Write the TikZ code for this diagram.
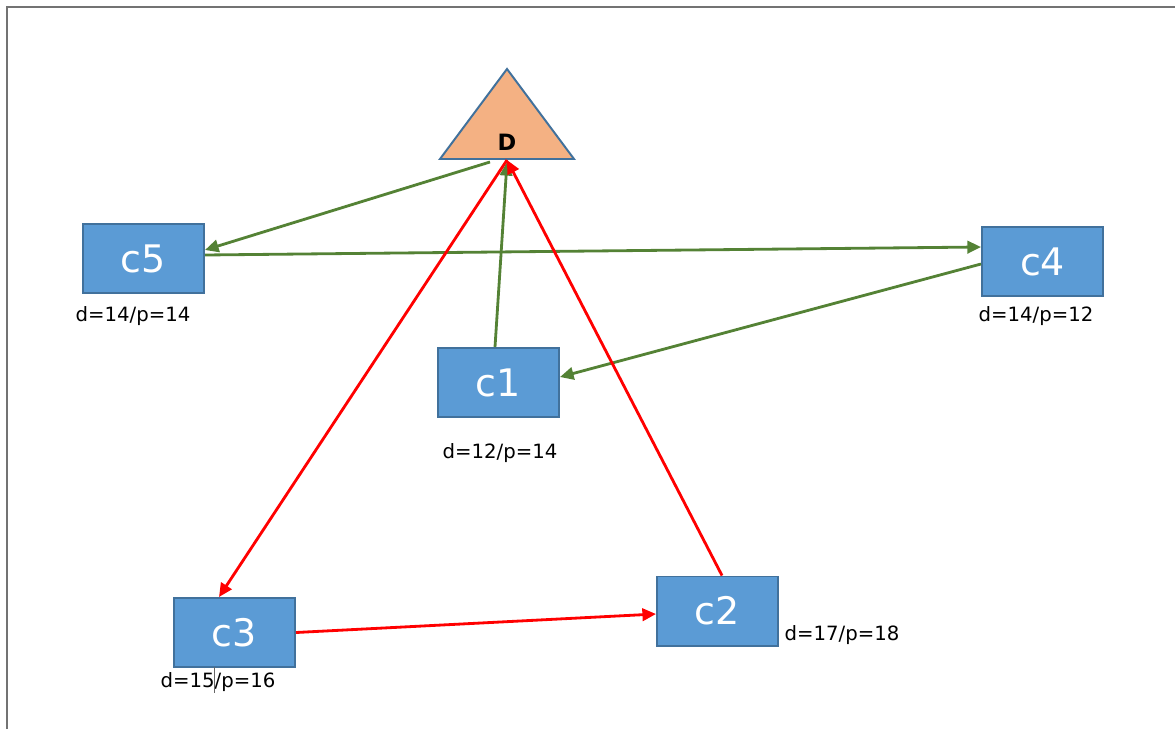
\documentclass[tikz,border=0pt]{standalone}
\usepackage{fontspec}
\setmainfont{DejaVu Sans}
\usetikzlibrary{arrows.meta,calc,positioning,shapes.geometric}
\definecolor{boxblue}{RGB}{91,155,213}
\definecolor{boxedge}{RGB}{65,113,156}
\definecolor{depotfill}{RGB}{244,177,131}
\definecolor{flowgreen}{RGB}{84,130,53}
\definecolor{flowred}{RGB}{255,0,0}
\tikzset{
  >={Triangle[length=3.4mm,width=3.1mm]},
  greenflow/.style={->, line width=2pt, draw=flowgreen, fill=flowgreen},
  redflow/.style={->, line width=2pt, draw=flowred, fill=flowred},
  cbox/.style={
    draw=boxedge,
    line width=1.4pt,
    fill=boxblue,
    text=white,
    minimum width=3.025cm,
    minimum height=1.725cm,
    inner sep=0pt,
    font=\fontsize{27}{31}\selectfont
  },
  depotshape/.style={
    isosceles triangle,
    isosceles triangle stretches,
    shape border rotate=90,
    draw=boxedge,
    line width=1.4pt,
    fill=depotfill,
    minimum width=3.35cm,
    minimum height=2.25cm,
    inner sep=0pt
  },
  dlabel/.style={font=\fontsize{16}{19}\selectfont\bfseries, inner sep=0pt},
  lbl/.style={font=\fontsize{14}{17}\selectfont, inner sep=0pt},
  frameline/.style={draw=black!55, line width=1.2pt}
}
\begin{document}
\begin{tikzpicture}[x=0.025cm, y=-0.025cm]
  \useasboundingbox (0,0) rectangle (1175,729);
  \draw[frameline] (7,729) -- (7,7) -- (1175,7);

  % depot
  \node[depotshape, anchor=south] (depot) at (507,160) {};
  \node[dlabel] (dname) at ($(depot.south)+(0,-18)$) {D};

  % clients
  \node[cbox] (c5) at (143.5,258.5) {c5};
  \node[cbox] (c4) at (1042.5,261.5) {c4};
  \node[cbox] (c1) at (498.5,382.5) {c1};
  \node[cbox] (c3) at (234.5,632.5) {c3};
  \node[cbox] (c2) at (717.5,611) {c2};

  \node[lbl] (l5) at (133,316) {d=14/p=14};
  \node[lbl] (l4) at (1036,316) {d=14/p=12};
  \node[lbl] (l1) at (500,453) {d=12/p=14};
  \node[lbl] (l3) at (218,682) {d=15/p=16};
  \node[lbl] (l2) at (842,635) {d=17/p=18};
  \draw[black!60, line width=0.6pt] (214,667) -- (214,693);

  % green tour
  \draw[greenflow] ($(depot.south)+(-17,2)$) -- ($(c5.east)+(0,-8.5)$);
  \draw[greenflow] ($(c5.east)+(0,-3.5)$) -- ($(c4.west)+(0,-14.5)$);
  \draw[greenflow] ($(c4.west)+(0,2.5)$) -- ($(c1.east)+(0,-5.5)$);
  \draw[greenflow] ($(c1.north)+(-3.5,0)$) -- ($(depot.south)+(0,2)$);

  % red tour
  \draw[redflow] (depot.south) -- ($(c3.north)+(-15.5,0)$);
  \draw[redflow] (c3.east) -- ($(c2.west)+(0,3)$);
  \draw[redflow] ($(c2.north)+(4.5,0)$) -- (depot.south);
\end{tikzpicture}
\end{document}
